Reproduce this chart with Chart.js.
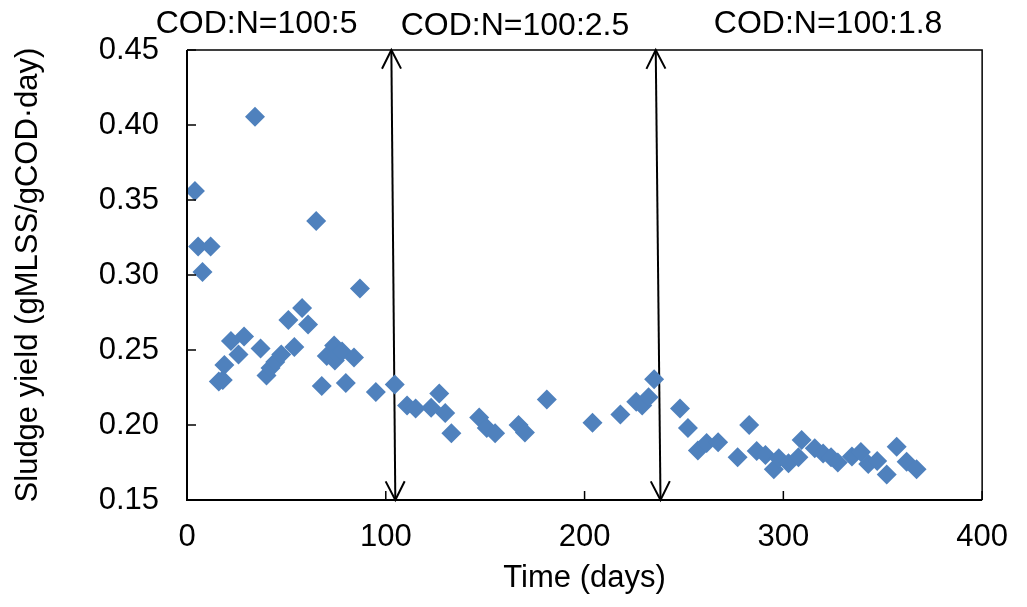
<!DOCTYPE html>
<html>
<head>
<meta charset="utf-8">
<script src="https://cdn.jsdelivr.net/npm/chart.js@4/dist/chart.umd.min.js"></script>
<style>
  body { margin: 0; background: #fff; }
</style>
</head>
<body>
<canvas id="yieldChart" width="1027" height="607"></canvas>
<script>
// valores
const days = [4, 5.6, 7.8, 11.9, 16, 18, 18.8, 22.1, 25.9, 28.7, 34.2, 37, 40, 42, 44.4, 47.4, 51, 54, 57.9, 60.9,
  65, 67.8, 70.3, 74, 74.4, 75.7, 78, 79.9, 84, 87, 95, 104.5, 110.7, 115, 122.8, 126.9, 129.9, 133, 147, 150.8,
  155, 166.8, 170, 181, 204, 218, 226, 229, 232.2, 235, 248, 252, 257, 261.4, 267.2, 277, 282.8, 286.6, 291, 295.2,
  297.7, 302.6, 307.6, 309.2, 315.8, 320, 324, 327.4, 334.5, 339, 342.7, 347.2, 352, 357, 362, 367];
const sludgeYield = [0.356, 0.319, 0.302, 0.319, 0.229, 0.230, 0.240, 0.256, 0.247, 0.259, 0.4055, 0.251, 0.233, 0.238, 0.242, 0.247, 0.270, 0.252, 0.278, 0.267,
  0.336, 0.226, 0.246, 0.253, 0.243, 0.247, 0.249, 0.228, 0.245, 0.291, 0.222, 0.227, 0.213, 0.211, 0.2115, 0.221, 0.208, 0.1945, 0.205, 0.198,
  0.1945, 0.200, 0.195, 0.217, 0.2015, 0.207, 0.2155, 0.213, 0.2185, 0.2305, 0.211, 0.198, 0.183, 0.188, 0.1885, 0.1785, 0.200, 0.1827, 0.180, 0.1705,
  0.1778, 0.1745, 0.1785, 0.190, 0.1845, 0.181, 0.1785, 0.175, 0.179, 0.182, 0.174, 0.176, 0.167, 0.1855, 0.1755, 0.1705];

// setas de mudança de fase (x no topo, x na base)
const arrow1 = [{ x: 102.8, y: 0.45 }, { x: 104.8, y: 0.15 }];
const arrow2 = [{ x: 235.8, y: 0.45 }, { x: 238.2, y: 0.15 }];

// rótulos das fases
const phaseLabels = ['COD:N=100:5', 'COD:N=100:2.5', 'COD:N=100:1.8'];
const phaseLabelX = [35, 165, 322.5];
const phaseLabelDy = [26, 24, 26];

const xTicks = [0, 100, 200, 300, 400];
const yTicks = [0.15, 0.20, 0.25, 0.30, 0.35, 0.40, 0.45];

const FONT = "'Liberation Sans', Arial, sans-serif";

const extras = {
  id: 'extras',
  afterDatasetsDraw(chart) {
    const { ctx, chartArea: a, scales: { x, y } } = chart;
    ctx.save();
    // setas
    ctx.strokeStyle = '#000';
    ctx.lineWidth = 2;
    [1, 2].forEach(i => {
      const pts = chart.getDatasetMeta(i).data;
      const p0 = pts[0], p1 = pts[1];
      const ang = Math.atan2(p1.y - p0.y, p1.x - p0.x);
      const head = (px, py, dir) => {
        const len = 21, spread = 0.47;
        ctx.beginPath();
        ctx.moveTo(px + Math.cos(dir + spread) * len, py + Math.sin(dir + spread) * len);
        ctx.lineTo(px, py);
        ctx.lineTo(px + Math.cos(dir - spread) * len, py + Math.sin(dir - spread) * len);
        ctx.stroke();
      };
      head(p0.x, p0.y, ang);
      head(p1.x, p1.y, ang + Math.PI);
    });

    // moldura
    ctx.lineWidth = 1.5;
    ctx.beginPath();
    ctx.moveTo(a.left, a.top);
    ctx.lineTo(a.right, a.top);
    ctx.lineTo(a.right, a.bottom);
    ctx.stroke();
    ctx.lineWidth = 2;
    ctx.beginPath();
    ctx.moveTo(a.left, a.top);
    ctx.lineTo(a.left, a.bottom);
    ctx.lineTo(a.right, a.bottom);
    ctx.stroke();

    // marcas internas
    ctx.lineWidth = 1.5;
    xTicks.forEach(v => {
      const px = x.getPixelForValue(v);
      ctx.beginPath();
      ctx.moveTo(px, a.bottom);
      ctx.lineTo(px, a.bottom - 9);
      ctx.stroke();
    });
    yTicks.forEach(v => {
      const py = y.getPixelForValue(v);
      ctx.beginPath();
      ctx.moveTo(a.left, py);
      ctx.lineTo(a.left + 9, py);
      ctx.stroke();
    });

    // rótulos
    ctx.fillStyle = '#000';
    ctx.font = '32px ' + FONT;
    ctx.textAlign = 'center';
    ctx.textBaseline = 'middle';
    phaseLabels.forEach((t, i) => {
      ctx.fillText(t, x.getPixelForValue(phaseLabelX[i]), a.top - phaseLabelDy[i]);
    });
    ctx.restore();
  }
};

const arrowStyle = {
  type: 'line',
  borderColor: '#000',
  borderWidth: 2,
  pointRadius: 0,
  fill: false,
  clip: false
};

const yieldCtx = document.getElementById('yieldChart').getContext('2d');
const yieldChart = new Chart(yieldCtx, {
  type: 'scatter',
  data: {
    datasets: [{
      label: 'Sludge yield',
      data: days.map((d, i) => ({ x: d, y: sludgeYield[i] })),
      backgroundColor: '#4f81bd',
      borderColor: '#4f81bd',
      borderWidth: 0,
      pointStyle: 'rectRot',
      pointRadius: 10,
      pointHoverRadius: 10
    },
    { ...arrowStyle, data: arrow1 },
    { ...arrowStyle, data: arrow2 }]
  },
  options: {
    responsive: false,
    animation: false,
    layout: { padding: { top: 50, right: 32, left: 0, bottom: 0 } },
    plugins: {
      legend: { display: false },
      tooltip: { enabled: false }
    },
    scales: {
      x: {
        type: 'linear',
        min: 0,
        max: 400,
        afterBuildTicks: s => { s.ticks = xTicks.map(v => ({ value: v })); },
        afterFit: s => { s.height = 107; },
        grid: { display: false, drawTicks: false },
        border: { display: false },
        ticks: { color: '#000', font: { family: FONT, size: 31 }, padding: 19 },
        title: {
          display: true,
          text: 'Time (days)',
          color: '#000',
          font: { family: FONT, size: 31 },
          padding: { top: 0, bottom: 10 }
        }
      },
      y: {
        type: 'linear',
        min: 0.15,
        max: 0.45,
        afterBuildTicks: s => { s.ticks = yTicks.map(v => ({ value: v })); },
        afterFit: s => { s.width = 187; },
        grid: { display: false, drawTicks: false },
        border: { display: false },
        ticks: {
          color: '#000',
          font: { family: FONT, size: 31 },
          padding: 28,
          callback: v => v.toFixed(2)
        },
        title: {
          display: true,
          text: 'Sludge yield (gMLSS/gCOD·day)',
          color: '#000',
          font: { family: FONT, size: 31 },
          padding: { top: 10, bottom: 0 }
        }
      }
    }
  },
  plugins: [extras]
});
</script>
</body>
</html>
